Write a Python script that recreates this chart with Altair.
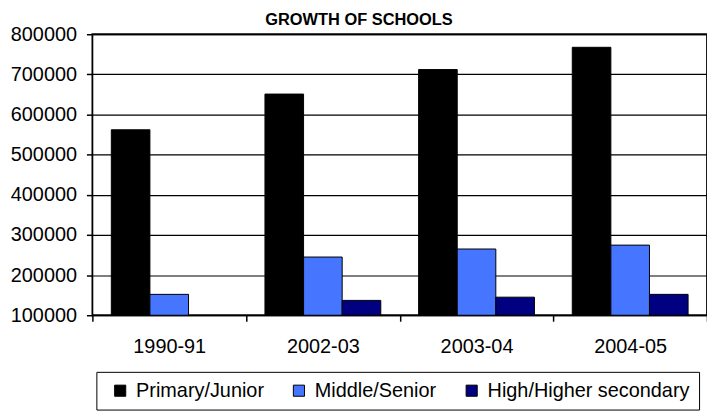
import altair as alt
import pandas as pd

years = ["1990-91", "2002-03", "2003-04", "2004-05"]
series = ["Primary/Junior", "Middle/Senior", "High/Higher secondary"]
primary = [562000, 651000, 712000, 767500]
middle = [152000, 245000, 265000, 274700]
high = [None, 137000, 145000, 152000]
colors = ["#000000", "#4676FF", "#000080"]
y_ticks = [100000, 200000, 300000, 400000, 500000, 600000, 700000, 800000]

rows = []
for i, yr in enumerate(years):
    for s, vals in zip(series, [primary, middle, high]):
        if vals[i] is not None:
            rows.append({"Year": yr, "Type": s, "Schools": vals[i]})
df = pd.DataFrame(rows)

FONT = "Liberation Sans"

chart = alt.Chart(df).mark_bar(stroke="black", strokeWidth=1, clip=True).encode(
    x=alt.X("Year:N", sort=years, title=None,
            scale=alt.Scale(paddingInner=0, paddingOuter=0),
            axis=alt.Axis(labelAngle=0, labelFont=FONT, labelFontSize=20, labelColor="black",
                          tickBand="extent", tickSize=6, tickColor="black", tickWidth=1.5,
                          labelPadding=16, domain=False, grid=False)),
    xOffset=alt.XOffset("Type:N", sort=series,
                        scale=alt.Scale(paddingInner=0, paddingOuter=0.49)),
    y=alt.Y("Schools:Q", title=None,
            scale=alt.Scale(domain=[100000, 800000], zero=False, nice=False),
            axis=alt.Axis(values=y_ticks, format="d", labelFont=FONT, labelFontSize=20,
                          labelColor="black", tickSize=6, tickColor="black", tickWidth=1.5,
                          labelPadding=10, domain=False, gridColor="black", gridWidth=1.2,
                          gridOpacity=1)),
    y2=alt.datum(100000),
    color=alt.Color("Type:N", sort=series, title=None,
                    scale=alt.Scale(domain=series, range=colors),
                    legend=alt.Legend(orient="none", legendX=4, legendY=340, direction="horizontal",
                                      labelFont=FONT, labelFontSize=20, labelColor="black",
                                      labelLimit=400,
                                      symbolType="square", symbolSize=125, symbolStrokeColor="black",
                                      symbolStrokeWidth=1, symbolOpacity=1, labelOffset=6,
                                      columnPadding=20, padding=9, symbolOffset=5,
                                      strokeColor="black", fillColor="white", cornerRadius=0)),
).properties(
    width=619, height=283,
    title=alt.TitleParams("GROWTH OF SCHOOLS", font=FONT, fontSize=16.5, fontWeight="bold",
                          color="black", anchor="middle", frame="group", dx=-41,
                          offset=7, dy=11),
    autosize=alt.AutoSizeParams(type="none"),
    padding={"left": 85, "top": 25, "right": 0, "bottom": 95},
).configure_view(stroke="black", strokeWidth=1.8)

chart.save("out.html", embed_options={"renderer": "svg", "actions": False})
